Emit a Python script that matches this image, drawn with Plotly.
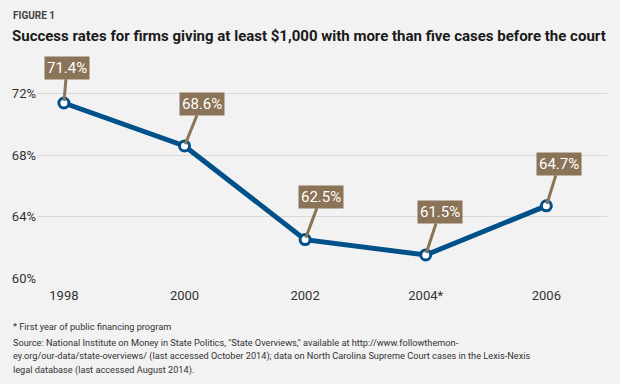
import plotly.graph_objects as go

years = ["1998", "2000", "2002", "2004*", "2006"]
rates = [71.4, 68.6, 62.5, 61.5, 64.7]
labels = ["71.4%", "68.6%", "62.5%", "61.5%", "64.7%"]
label_offsets = [(3, -35), (17, -42), (16, -43), (14, -43), (13, -42)]
y_ticks = [60, 64, 68, 72]
y_tick_text = ["60%", "64%", "68%", "72%"]

FONT = "Roboto, sans-serif"
BLUE = "#00508a"
BROWN = "#8a7356"
TXT = "#333333"

fig = go.Figure()
fig.add_trace(go.Scatter(
    x=list(range(len(years))), y=rates, mode="lines+markers",
    line=dict(color=BLUE, width=5),
    marker=dict(size=10, color="white", line=dict(color=BLUE, width=3)),
    hoverinfo="skip", showlegend=False,
))

ann = []
for i, (v, t, (ax, ay)) in enumerate(zip(rates, labels, label_offsets)):
    ann.append(dict(x=i, y=v, xref="x", yref="y", text=t, showarrow=True,
                    ax=ax, ay=ay, arrowhead=0, arrowwidth=3, arrowcolor=BROWN,
                    bgcolor=BROWN, borderpad=2, standoff=2,
                    font=dict(family=FONT, size=15, color="white")))

W, H = 620, 384
L, R, T, B = 34, 13, 60, 106
pw, ph = W - L - R, H - T - B

def px(xp):
    return (xp - L) / pw

def py(yp):
    return (H - B - yp) / ph

ann.append(dict(x=px(8), y=py(15), xref="paper", yref="paper", text="<b>FIGURE 1</b>",
                showarrow=False, xanchor="left", yanchor="middle",
                font=dict(family=FONT, size=10, color="#444444")))
ann.append(dict(x=px(7), y=py(36), xref="paper", yref="paper",
                text="<b>Success rates for firms giving at least $1,000 with more than five cases before the court</b>",
                showarrow=False, xanchor="left", yanchor="middle",
                font=dict(family=FONT, size=15, color="#1a1a1a")))
ann.append(dict(x=px(8), y=py(326), xref="paper", yref="paper",
                text="* First year of public financing program",
                showarrow=False, xanchor="left", yanchor="middle",
                font=dict(family=FONT, size=9.2, color=TXT)))
src = ["Source: National Institute on Money in State Politics, \"State Overviews,\" available at http://www.followthemon-",
       "ey.org/our-data/state-overviews/ (last accessed October 2014); data on North Carolina Supreme Court cases in the Lexis-Nexis",
       "legal database (last accessed August 2014)."]
for k, line in enumerate(src):
    ann.append(dict(x=px(8), y=py(342 + 14 * k), xref="paper", yref="paper", text=line,
                    showarrow=False, xanchor="left", yanchor="middle",
                    font=dict(family=FONT, size=9.2, color=TXT)))

fig.update_layout(
    width=W, height=H, margin=dict(l=L, r=R, t=T, b=B),
    paper_bgcolor="#f2f2f2", plot_bgcolor="#f2f2f2",
    annotations=ann,
    xaxis=dict(range=[-0.223, 4.503], tickmode="array", tickvals=list(range(len(years))),
               ticktext=years, showgrid=False, zeroline=False, showline=False,
               tickfont=dict(family=FONT, size=13, color=TXT), ticks="", ticklen=0,
               ticklabelstandoff=8),
    yaxis=dict(range=[60, 74.2], tickmode="array", tickvals=y_ticks, ticktext=y_tick_text,
               showgrid=True, gridcolor="#d9d9d9", gridwidth=1, zeroline=False, showline=False,
               tickfont=dict(family=FONT, size=13, color=TXT), ticks="", ticklen=0),
)

fig.write_html("out.html", config={"displayModeBar": False},
               post_script="document.body.style.margin='0';document.body.style.background='#f2f2f2';document.body.style.overflow='hidden';")
